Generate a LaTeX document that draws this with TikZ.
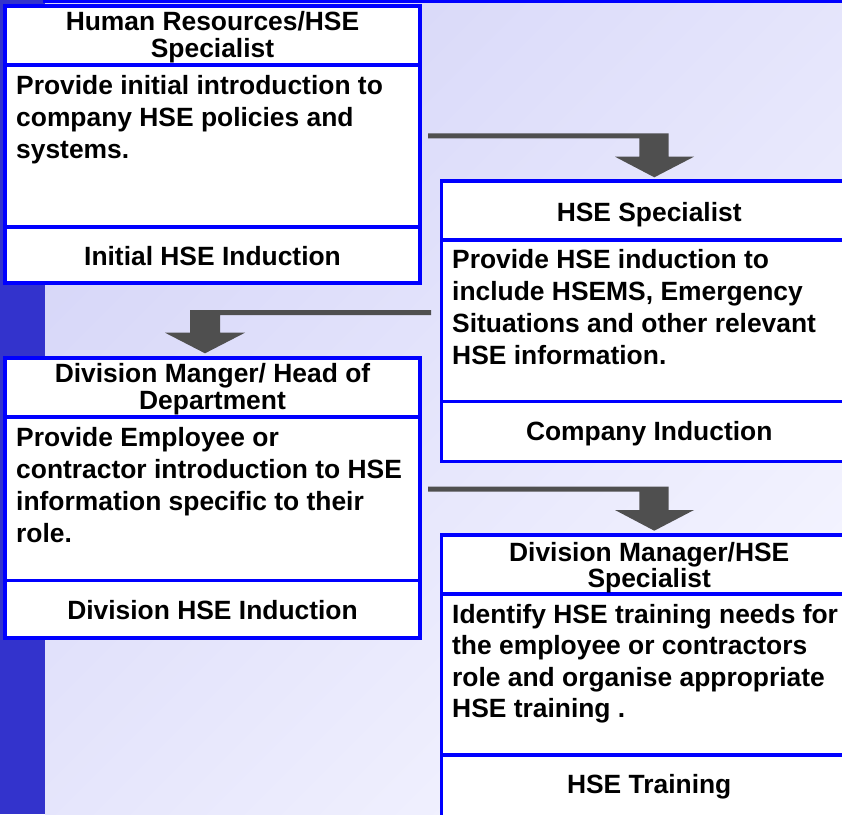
\documentclass[tikz,border=0pt]{standalone}
\usepackage{fontspec}
\setmainfont{Liberation Sans}
\definecolor{stripblue}{HTML}{3333CC}
\definecolor{lineblue}{HTML}{0000FF}
\definecolor{arrowgray}{HTML}{4F4F4F}
\definecolor{bgA}{HTML}{D6D6F8}
\definecolor{bgB}{HTML}{F4F4FF}
\begin{document}
\begin{tikzpicture}[x=1pt,y=-1pt,
  cell/.style={draw=lineblue, line width=3.3pt, fill=white, inner sep=0pt, outer sep=0pt,
    anchor=north west, minimum width=415pt},
  txt/.style={font=\fontsize{26.4}{32}\selectfont\bfseries, inner sep=0pt},
  ctr/.style={txt, anchor=base},
  lft/.style={txt, anchor=base west},
  blockarrow/.style={fill=arrowgray}]
\useasboundingbox (0,0) rectangle (842,814);
\clip (0,0) rectangle (842,814);
% background
\shade[top color=bgA, bottom color=bgB, shading angle=45] (45,0) rectangle (842,814);
\fill[stripblue] (0,0) rectangle (45,814);
\fill[lineblue] (43,0) rectangle (842,3.3);

% Box A
\node[cell, minimum height=59pt] (Ahead) at (5,6) {};
\node[cell, minimum height=162pt] (Abody) at (5,65) {};
\node[cell, minimum height=56pt] (Afoot) at (5,227) {};
\node[ctr] (At1) at (212.5,30) {Human Resources/HSE};
\node[ctr] (At2) at (212.5,57.5) {Specialist};
\node[lft] (Ab1) at (16,94) {Provide initial introduction to};
\node[lft] (Ab2) at (16,126) {company HSE policies and};
\node[lft] (Ab3) at (16,158) {systems.};
\node[ctr] (Af1) at (212.5,265) {Initial HSE Induction};

% Box C
\node[cell, minimum height=59pt] (Chead) at (5,358) {};
\node[cell, minimum height=163.5pt] (Cbody) at (5,417) {};
\node[cell, minimum height=57.5pt] (Cfoot) at (5,580.5) {};
\node[ctr] (Ct1) at (212.5,382) {Division Manger/ Head of};
\node[ctr] (Ct2) at (212.5,409) {Department};
\node[lft] (Cb1) at (16,446) {Provide Employee or};
\node[lft] (Cb2) at (16,478) {contractor introduction to HSE};
\node[lft] (Cb3) at (16,510) {information specific to their};
\node[lft] (Cb4) at (16,542) {role.};
\node[ctr] (Cf1) at (212.5,619) {Division HSE Induction};

% Box B
\node[cell, minimum height=59pt] (Bhead) at (441.7,181) {};
\node[cell, minimum height=161.5pt] (Bbody) at (441.7,240) {};
\node[cell, minimum height=60pt] (Bfoot) at (441.7,401.5) {};
\node[ctr] (Bt1) at (649.2,221.5) {HSE Specialist};
\node[lft] (Bb1) at (452,268) {Provide HSE induction to};
\node[lft] (Bb2) at (452,300) {include HSEMS, Emergency};
\node[lft] (Bb3) at (452,332) {Situations and other relevant};
\node[lft] (Bb4) at (452,364) {HSE information.};
\node[ctr] (Bf1) at (649.2,440) {Company Induction};

% Box D
\node[cell, minimum height=59pt] (Dhead) at (441.7,535) {};
\node[cell, minimum height=161pt] (Dbody) at (441.7,594) {};
\node[cell, minimum height=70pt] (Dfoot) at (441.7,755) {};
\node[ctr] (Dt1) at (649.2,561) {Division Manager/HSE};
\node[ctr] (Dt2) at (649.2,587) {Specialist};
\node[lft] (Db1) at (452,623) {Identify HSE training needs for};
\node[lft] (Db2) at (452,654.5) {the employee or contractors};
\node[lft] (Db3) at (452,686) {role and organise appropriate};
\node[lft] (Db4) at (452,717.5) {HSE training .};
\node[ctr] (Df1) at (649.2,793) {HSE Training};

% block arrows
\fill[blockarrow] (428,133.3) -- (668.7,133.3) -- (668.7,156.7) -- (694,156.7) -- (654.3,177.3)
  -- (615,156.7) -- (639.3,156.7) -- (639.3,138.3) -- (428,138.3) -- cycle;
\fill[blockarrow] (431,310) -- (190,310) -- (190,332.7) -- (165,332.7) -- (205,353.3)
  -- (245,332.7) -- (220,332.7) -- (220,315) -- (431,315) -- cycle;
\fill[blockarrow] (428,486.7) -- (668.7,486.7) -- (668.7,510) -- (694,510) -- (654.3,530.7)
  -- (615,510) -- (639.3,510) -- (639.3,491.7) -- (428,491.7) -- cycle;
\end{tikzpicture}
\end{document}
